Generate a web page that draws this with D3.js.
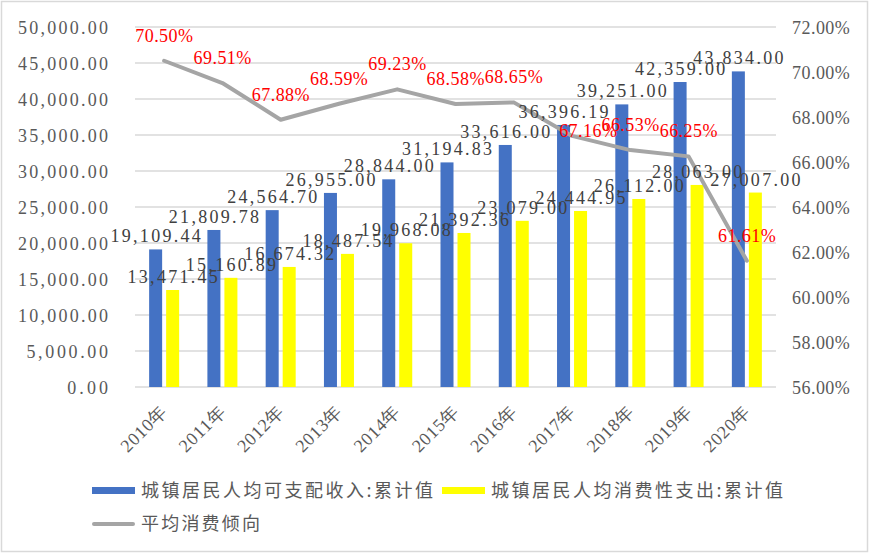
<!DOCTYPE html>
<html>
<head>
<meta charset="utf-8">
<script src="https://cdn.jsdelivr.net/npm/d3@7"></script>
<style>
  body { margin: 0; background: #fff; }
  svg { display: block; }
</style>
</head>
<body>
<svg id="chart" width="870" height="554"></svg>
<script>
const years = ["2010年", "2011年", "2012年", "2013年", "2014年", "2015年", "2016年", "2017年", "2018年", "2019年", "2020年"];
const income = [19109.44, 21809.78, 24564.70, 26955.00, 28844.00, 31194.83, 33616.00, 36396.19, 39251.00, 42359.00, 43834.00];
const spending = [13471.45, 15160.89, 16674.32, 18487.54, 19968.08, 21392.36, 23079.00, 24444.95, 26112.00, 28063.00, 27007.00];
const ratio = [70.50, 69.51, 67.88, 68.59, 69.23, 68.58, 68.65, 67.16, 66.53, 66.25, 61.61];
const leftTicks = [0, 5000, 10000, 15000, 20000, 25000, 30000, 35000, 40000, 45000, 50000];
const rightTicks = [56, 58, 60, 62, 64, 66, 68, 70, 72];
const seriesNames = ["城镇居民人均可支配收入:累计值", "城镇居民人均消费性支出:累计值", "平均消费倾向"];

const svg = d3.select("#chart");
const plot = { left: 135, right: 776, top: 27, bottom: 387 };
const numFont = "Liberation Serif, DejaVu Serif, serif";
const fs = 17;
const fontPx = "18px";
const colors = { income: "#4472C4", spending: "#FFFF00", line: "#A5A5A5" };

// width like a SimSun label: half-width digits, wide punctuation and CJK
const labelWidth = s => [...s].reduce((w, c) => w + (c === "," || c === "." ? 0.9 : c > "\u2000" ? 1 : 0.5), 0) * fs;
const fmtMoney = d3.format(",.2f");
const fmtPct = d => d.toFixed(2) + "%";

const x0 = d3.scaleBand().domain(years).range([plot.left, plot.right]).paddingInner(0.485).paddingOuter(0.2425);
const x1 = d3.scaleBand().domain(["income", "spending"]).range([0, x0.bandwidth()]).paddingInner(0.235);
const yL = d3.scaleLinear().domain([0, 50000]).range([plot.bottom, plot.top]);
const yR = d3.scaleLinear().domain([56, 72]).range([plot.bottom, plot.top]);

// frame
svg.append("rect")
  .attr("x", 1.5).attr("y", 1.5).attr("width", 866).attr("height", 550)
  .attr("fill", "#fff").attr("stroke", "#d9d9d9").attr("stroke-width", 1.5);

// grid
svg.append("g")
  .selectAll("line")
  .data(leftTicks)
  .join("line")
  .attr("x1", plot.left).attr("x2", plot.right)
  .attr("y1", d => yL(d)).attr("y2", d => yL(d))
  .attr("stroke", "#d9d9d9").attr("stroke-width", 1.5);

// axes
const axL = svg.append("g")
  .attr("transform", `translate(108,0)`)
  .call(d3.axisLeft(yL).tickValues(leftTicks).tickFormat(fmtMoney).tickSize(0).tickPadding(0));
const axR = svg.append("g")
  .attr("transform", `translate(792,0)`)
  .call(d3.axisRight(yR).tickValues(rightTicks).tickFormat(fmtPct).tickSize(0).tickPadding(0));

[axL, axR].forEach(ax => {
  ax.select(".domain").remove();
  ax.selectAll("text")
    .style("font-family", numFont).style("font-size", fontPx).attr("fill", "#595959")
    .attr("dy", "0.35em")
    .attr("textLength", function () { return labelWidth(this.textContent); })
    .attr("lengthAdjust", "spacing");
});

// x labels
svg.append("g")
  .selectAll("text")
  .data(years)
  .join("text")
  .attr("transform", d => `translate(${x0(d) + x0.bandwidth() / 2 + 4},413) rotate(-45)`)
  .attr("text-anchor", "end")
  .style("font-family", numFont).style("font-size", "18px").attr("fill", "#595959")
  .attr("textLength", 57)
  .attr("lengthAdjust", "spacing")
  .text(d => d);

// bars
const groups = svg.append("g")
  .selectAll("g")
  .data(years)
  .join("g")
  .attr("transform", d => `translate(${x0(d)},0)`);

groups.append("rect")
  .attr("x", x1("income")).attr("width", x1.bandwidth())
  .attr("y", (d, i) => yL(income[i])).attr("height", (d, i) => yL(0) - yL(income[i]))
  .attr("fill", colors.income);

groups.append("rect")
  .attr("x", x1("spending")).attr("width", x1.bandwidth())
  .attr("y", (d, i) => yL(spending[i])).attr("height", (d, i) => yL(0) - yL(spending[i]))
  .attr("fill", colors.spending);

// line
const cx = d => x0(d) + x0.bandwidth() / 2;
const line = d3.line().x((d, i) => cx(years[i])).y(d => yR(d));
svg.append("path")
  .datum(ratio)
  .attr("d", line)
  .attr("fill", "none")
  .attr("stroke", colors.line)
  .attr("stroke-width", 4)
  .attr("stroke-linejoin", "round")
  .attr("stroke-linecap", "round");

// bar labels
const valueLabel = (values, key) => svg.append("g")
  .selectAll("text")
  .data(values)
  .join("text")
  .attr("x", (d, i) => x0(years[i]) + x1(key) + x1.bandwidth() / 2)
  .attr("y", d => yL(d) - 7)
  .attr("text-anchor", "middle")
  .style("font-family", numFont).style("font-size", fontPx).attr("fill", "#404040")
  .attr("textLength", d => labelWidth(fmtMoney(d)))
  .attr("lengthAdjust", "spacing")
  .text(d => fmtMoney(d));

valueLabel(income, "income");
valueLabel(spending, "spending");

// percent labels (2017 label sits to the right of its point)
const nudge = { 7: [16, 20] };
svg.append("g")
  .selectAll("text")
  .data(ratio)
  .join("text")
  .attr("x", (d, i) => cx(years[i]) + (nudge[i] ? nudge[i][0] : 0))
  .attr("y", (d, i) => yR(d) - 19 + (nudge[i] ? nudge[i][1] : 0))
  .attr("text-anchor", "middle")
  .style("font-family", numFont).style("font-size", fontPx).attr("fill", "#FF0000")
  .attr("textLength", d => labelWidth(fmtPct(d)))
  .attr("lengthAdjust", "spacing")
  .text(d => fmtPct(d));

// legend
const legend = svg.append("g")
  .style("font-family", "Noto Sans CJK SC, sans-serif")
  .style("font-size", "18px")
  .attr("fill", "#595959");

const legendItems = [
  { name: seriesNames[0], x: 92, y: 491, color: colors.income, type: "rect", w: 292 },
  { name: seriesNames[1], x: 442, y: 491, color: colors.spending, type: "rect", w: 292 },
  { name: seriesNames[2], x: 92, y: 524, color: colors.line, type: "line", w: 119 }
];

legendItems.forEach(it => {
  if (it.type === "rect") {
    legend.append("rect")
      .attr("x", it.x).attr("y", it.y - 4).attr("width", 43).attr("height", 7)
      .attr("fill", it.color);
  } else {
    legend.append("line")
      .attr("x1", it.x + 2).attr("x2", it.x + 41).attr("y1", it.y).attr("y2", it.y)
      .attr("stroke", it.color).attr("stroke-width", 4).attr("stroke-linecap", "round");
  }
  legend.append("text")
    .attr("x", it.x + 49).attr("y", it.y)
    .attr("dy", "0.35em")
    .attr("textLength", it.w).attr("lengthAdjust", "spacing")
    .text(it.name);
});
</script>
</body>
</html>
